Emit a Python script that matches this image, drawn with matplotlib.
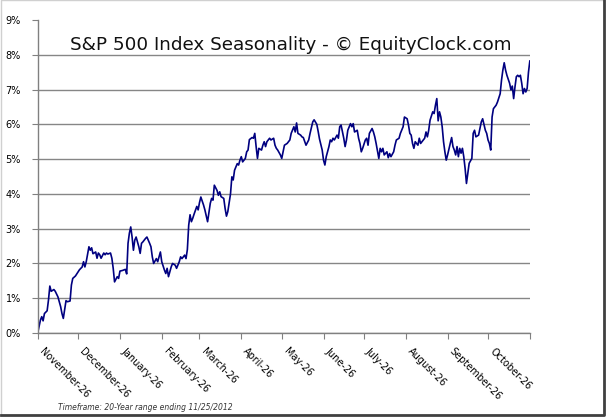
######
# S&P 500 seasonality chart (EquityClock style)
######

# Importing packages
import numpy as np
import matplotlib
matplotlib.use("Agg")
import matplotlib.pyplot as plt
from matplotlib.ticker import FuncFormatter
from matplotlib.lines import Line2D

# Data: days after Nov 26 and average gain in percent
days = [0, 2, 3, 4, 5, 7, 8, 9, 10, 12, 13, 15, 17, 18, 19, 20, 21, 22, 24, 25,
        26, 28, 30, 31, 33, 34, 35, 36, 38, 39, 40, 41, 43, 44, 45, 46, 47, 49, 50, 51,
        52, 54, 55, 56, 57, 59, 60, 61, 63, 65, 66, 67, 68, 69, 70, 71, 72, 73, 75, 76,
        77, 78, 80, 81, 83, 84, 85, 86, 88, 89, 90, 91, 92, 94, 95, 96, 97, 99, 100, 102,
        103, 105, 106, 107, 109, 110, 111, 112, 113, 114, 115, 116, 118, 119, 120, 121, 123, 124, 125, 126,
        128, 129, 130, 131, 133, 134, 135, 136, 138, 139, 140, 141, 143, 144, 145, 146, 148, 149, 150, 151,
        152, 154, 155, 156, 157, 159, 160, 161, 162, 163, 164, 166, 167, 168, 169, 170, 172, 173, 175, 176,
        177, 178, 180, 181, 182, 183, 185, 187, 188, 190, 191, 192, 193, 195, 196, 197, 199, 201, 202, 204,
        205, 207, 208, 209, 211, 212, 213, 214, 216, 217, 218, 219, 220, 222, 223, 224, 225, 227, 228, 229,
        230, 232, 233, 234, 235, 237, 238, 239, 240, 241, 243, 244, 245, 246, 248, 249, 250, 251, 253, 254,
        255, 256, 257, 259, 260, 261, 262, 264, 265, 266, 268, 269, 271, 272, 274, 275, 276, 277, 278, 279,
        280, 282, 283, 284, 285, 287, 288, 289, 290, 291, 293, 294, 295, 296, 297, 298, 299, 300, 301, 302,
        303, 304, 306, 307, 308, 309, 310, 311, 312, 313, 314, 315, 316, 317, 318, 319, 320, 322, 323, 324,
        325, 327, 328, 329, 330, 332, 333, 334, 335, 336, 337, 338, 339, 340, 341, 343, 344, 345, 346, 347,
        348, 350, 351, 352, 353, 354, 355, 356, 357, 358, 359, 360, 361, 362, 363, 364, 365]

gain_pct = [0.00, 0.37, 0.47, 0.35, 0.56, 0.64, 0.95, 1.35, 1.20, 1.25, 1.20, 1.04, 0.76, 0.56, 0.42, 0.67, 0.93, 0.90, 0.92, 1.38,
            1.57, 1.64, 1.76, 1.82, 1.90, 2.05, 1.90, 2.05, 2.48, 2.38, 2.45, 2.28, 2.33, 2.15, 2.30, 2.25, 2.15, 2.30, 2.25, 2.30,
            2.27, 2.30, 2.15, 1.86, 1.47, 1.62, 1.57, 1.78, 1.80, 1.83, 1.70, 2.58, 2.87, 3.05, 2.76, 2.38, 2.67, 2.76, 2.48, 2.29,
            2.58, 2.62, 2.72, 2.76, 2.58, 2.48, 2.19, 2.00, 2.14, 2.05, 2.19, 2.33, 2.05, 1.81, 1.71, 1.86, 1.62, 1.90, 2.00, 1.95,
            1.86, 2.05, 2.19, 2.14, 2.24, 2.14, 2.40, 3.10, 3.40, 3.20, 3.30, 3.42, 3.64, 3.54, 3.75, 3.91, 3.68, 3.54, 3.37, 3.20,
            3.73, 3.87, 3.82, 4.25, 4.10, 3.96, 4.06, 3.92, 3.87, 3.58, 3.36, 3.49, 4.00, 4.49, 4.40, 4.68, 4.87, 4.83, 4.97, 5.07,
            4.92, 5.02, 5.21, 5.26, 5.56, 5.62, 5.60, 5.74, 5.36, 5.02, 5.31, 5.26, 5.40, 5.50, 5.36, 5.50, 5.60, 5.55, 5.60, 5.40,
            5.31, 5.26, 5.12, 5.02, 5.21, 5.40, 5.45, 5.55, 5.74, 5.93, 5.78, 6.04, 5.74, 5.69, 5.64, 5.62, 5.40, 5.55, 5.74, 6.07,
            6.13, 6.00, 5.80, 5.58, 5.26, 4.97, 4.83, 5.07, 5.36, 5.55, 5.50, 5.60, 5.55, 5.69, 5.60, 5.93, 5.98, 5.60, 5.36, 5.55,
            5.83, 6.02, 5.93, 6.02, 5.78, 5.83, 5.60, 5.45, 5.21, 5.31, 5.55, 5.60, 5.40, 5.74, 5.88, 5.78, 5.64, 5.45, 5.02, 5.31,
            5.21, 5.31, 5.12, 5.21, 5.04, 5.16, 5.07, 5.21, 5.40, 5.55, 5.60, 5.74, 5.93, 6.21, 6.16, 5.98, 5.74, 5.69, 5.45, 5.31,
            5.50, 5.40, 5.60, 5.45, 5.50, 5.60, 5.78, 5.64, 5.83, 6.12, 6.36, 6.31, 6.55, 6.74, 6.10, 6.36, 6.21, 5.93, 5.50, 5.21,
            4.97, 5.12, 5.45, 5.62, 5.36, 5.26, 5.12, 5.36, 5.07, 5.31, 5.17, 5.31, 5.07, 4.73, 4.30, 4.59, 4.88, 5.02, 5.74, 5.83,
            5.64, 5.69, 5.88, 6.07, 6.16, 5.83, 5.74, 5.55, 5.45, 5.26, 6.21, 6.45, 6.50, 6.55, 6.64, 6.88, 7.27, 7.56, 7.77, 7.56,
            7.41, 7.18, 6.99, 7.10, 6.74, 7.08, 7.37, 7.41, 7.37, 7.41, 7.18, 6.88, 7.03, 6.93, 7.03, 7.50, 7.82]

# Month labels and the length of each month step (Nov 26 -> Dec 26 -> ...)
month_labels = ['November-26', 'December-26', 'January-26', 'February-26', 'March-26', 'April-26',
                'May-26', 'June-26', 'July-26', 'August-26', 'September-26', 'October-26']
month_lengths = [30, 31, 31, 28, 31, 30, 31, 30, 31, 31, 30, 31]

y_ticks = list(range(0, 10))

title_text = 'S&P 500 Index Seasonality - \u00a9 EquityClock.com'
footer_text = 'Timeframe: 20-Year range ending 11/25/2012'


def plot_seasonality():
    fig = plt.figure(figsize=(6.09, 4.18), dpi=100)
    ax = fig.add_axes([0.0619, 0.2033, 0.8081, 0.7489])

    ax.plot(days, gain_pct, color='#000080', linewidth=1.2)

    tick_days = np.concatenate([[0], np.cumsum(month_lengths)])
    ax.set_xlim(tick_days[0], tick_days[-1])
    ax.set_ylim(y_ticks[0], y_ticks[-1])

    # x axis: month ticks; labels drawn as rotated annotations hanging off each tick
    ax.set_xticks(tick_days)
    ax.set_xticklabels([])
    for d, name in zip(tick_days, month_labels):
        ax.annotate(name, xy=(d, 0), xycoords=('data', 'axes fraction'),
                    xytext=(5, -9.5), textcoords='offset points',
                    rotation=-45, rotation_mode='anchor', ha='left', va='top',
                    fontsize=7, color='#000000', annotation_clip=False)

    # y axis: percent labels and horizontal gridlines
    ax.set_yticks(y_ticks)
    ax.yaxis.set_major_formatter(FuncFormatter(lambda v, p: f'{v:.0f}%'))
    ax.tick_params(axis='y', labelsize=7, colors='#000000', length=4, pad=8)
    ax.tick_params(axis='x', length=4)
    ax.tick_params(axis='both', color='#808080')
    ax.yaxis.grid(True, color='#868686', linewidth=1.0)
    ax.yaxis.get_gridlines()[-1].set_visible(False)
    ax.set_axisbelow(True)

    for side in ['top', 'right']:
        ax.spines[side].set_visible(False)
    for side in ['left', 'bottom']:
        ax.spines[side].set_color('#808080')
        ax.spines[side].set_linewidth(1.0)

    # Title inside the plot area and footer note
    fig.text(0.478, 0.893, title_text, ha='center', va='center', fontsize=13.2, color='#111111')
    fig.text(0.095, 0.024, footer_text, ha='left', va='center', fontsize=5.5,
             style='italic', color='#333333')

    # Picture frame with shadow on right and bottom
    fig.add_artist(Line2D([0.001, 0.001, 0.992], [0.006, 0.999, 0.999], transform=fig.transFigure,
                          color='#d0d0d0', linewidth=1))
    fig.add_artist(Line2D([0.001, 0.992, 0.992], [0.006, 0.006, 0.999], transform=fig.transFigure,
                          color='#404040', linewidth=2))

    fig.savefig('out.png', dpi=100)
    plt.close(fig)


def main():
    plot_seasonality()


if __name__ == "__main__":
    main()
